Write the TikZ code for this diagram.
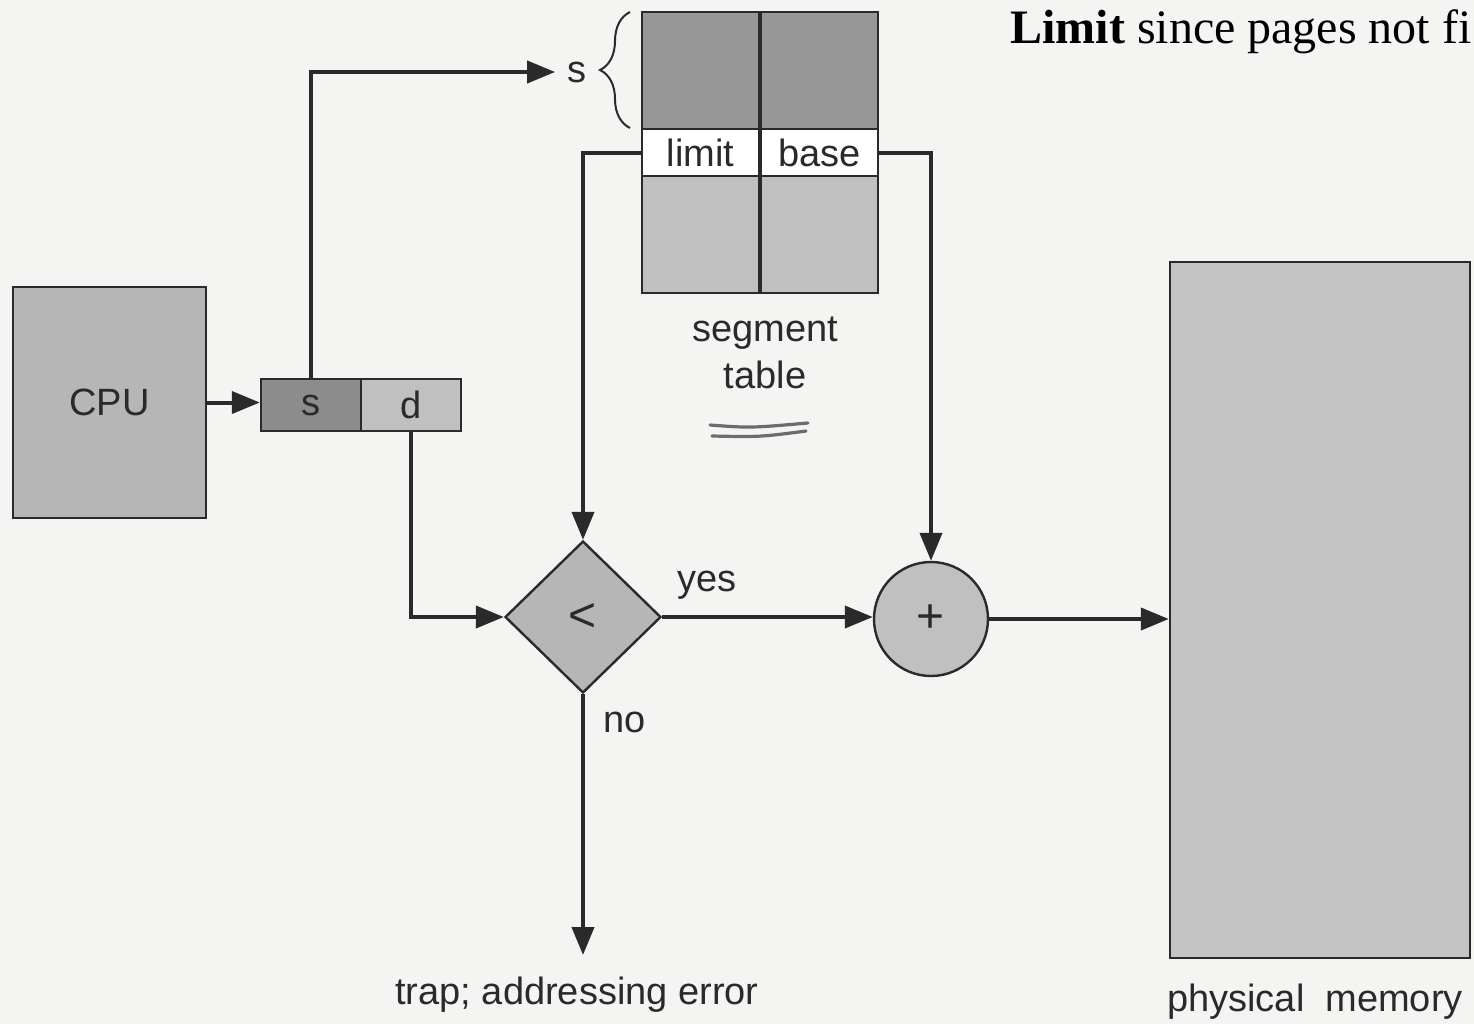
\documentclass[tikz,border=0pt]{standalone}
\usepackage{fontspec}
\setmainfont{Liberation Serif}
\setsansfont{Liberation Sans}
\usetikzlibrary{shapes.geometric,arrows.meta,decorations.pathreplacing}
\definecolor{ink}{HTML}{2A2A2A}
\definecolor{bgc}{HTML}{F4F4F2}
\definecolor{midgray}{HTML}{B6B6B6}
\definecolor{darkgray}{HTML}{979797}
\definecolor{sgray}{HTML}{8C8C8C}
\definecolor{lightgray}{HTML}{C0C0C0}
\definecolor{memgray}{HTML}{C4C4C4}
\begin{document}
\begin{tikzpicture}[x=0.5pt,y=-0.5pt,
  lbl/.style={font=\sffamily\fontsize{19}{23.5}\selectfont, text=ink, inner sep=0pt},
  box/.style={draw=ink, line width=1.2pt, inner sep=0pt, font=\sffamily\fontsize{19}{23}\selectfont, text=ink},
  conn/.style={draw=ink, line width=2pt},
  arr/.style={conn, -{Triangle[length=14pt,width=11pt]}}]
\fill[bgc] (0,0) rectangle (1474,1024);
\useasboundingbox (0,0) rectangle (1474,1024);
% CPU
\node[box, fill=midgray, minimum width=96.5pt, minimum height=115.5pt] (cpu) at (109.5,402.5) {CPU};
% logical address
\node[box, fill=sgray, minimum width=50pt, minimum height=26pt] (sbox) at (311,405) {s};
\node[box, fill=lightgray, minimum width=50pt, minimum height=26pt] (dbox) at (411,405) {d};
% segment table
\node[box, fill=darkgray, minimum width=58.5pt, minimum height=58.5pt] (t1) at (700.5,70.5) {};
\node[box, fill=darkgray, minimum width=58.5pt, minimum height=58.5pt] (t2) at (819.5,70.5) {};
\node[box, fill=white, minimum width=58.5pt, minimum height=23.5pt] (lim) at (700.5,152.5) {limit};
\node[box, fill=white, minimum width=58.5pt, minimum height=23.5pt] (bas) at (819.5,152.5) {base};
\node[box, fill=lightgray, minimum width=58.5pt, minimum height=58.5pt] (b1) at (700.5,234.5) {};
\node[box, fill=lightgray, minimum width=58.5pt, minimum height=58.5pt] (b2) at (819.5,234.5) {};
\node[lbl, align=center] (segl) at (765,353) {segment\\table};
\draw[gray!85!black, line width=1.6pt, line cap=round] (710,425) .. controls (750,428) .. (808,423);
\draw[gray!85!black, line width=1.6pt, line cap=round] (712,436) .. controls (760,437) .. (806,431);
% s label and brace
\node[lbl, inner xsep=6pt] (slab) at (577,72) {s};
\draw[ink, line width=1pt, decorate, decoration={brace, amplitude=15pt}] (630,128) -- (630,12);
% comparator and adder
\node[draw=ink, line width=1.2pt, fill=midgray, shape=diamond, inner sep=0pt, minimum width=78pt, minimum height=76pt, font=\sffamily\fontsize{24}{28}\selectfont, text=ink] (dia) at (583,617) {<};
\node[draw=ink, line width=1.2pt, fill=lightgray, shape=circle, inner sep=0pt, minimum size=57pt, font=\sffamily\fontsize{24}{28}\selectfont, text=ink] (circ) at (931,619) {+};
% memory
\node[box, fill=memgray, minimum width=150pt, minimum height=348pt] (mem) at (1320,610) {};
\node[lbl] (meml) at (1315,1002) {physical\ \ memory};
\node[lbl] (trap) at (577,995) {trap; addressing error};
\coordinate (trapend) at (580,955);
% labels
\node[lbl] (yes) at (707,585) {yes};
\node[lbl] (no) at (625,722) {no};
\node[anchor=west, inner sep=0pt, font=\fontsize{24}{28}\selectfont] (note) at (1010,32) {\textbf{Limit} since pages not fi};
% connectors
\draw[arr] (cpu.east) -- (cpu.east -| sbox.west);
\draw[arr] (sbox.north) |- (slab.west);
\draw[arr] (lim.west) -| (dia.north);
\draw[arr] (bas.east) -| (circ.north);
\draw[arr] (dbox.south) |- (dia.west);
\draw[arr] (dia.east) -- (dia.east -| circ.west);
\draw[arr] (circ.east) -- (circ.east -| mem.west);
\draw[arr] (dia.south) -- (dia.south |- trapend);
\end{tikzpicture}
\end{document}
